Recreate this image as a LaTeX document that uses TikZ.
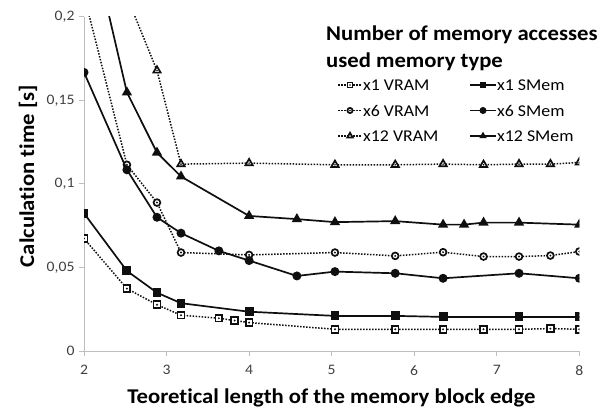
\documentclass[tikz,border=0pt]{standalone}
\usepackage{fontspec}
\setmainfont{Carlito}[Ligatures=NoCommon, FakeStretch=1.08]
\usepackage{tikz}
\usepackage{pgfplots}
\usetikzlibrary{
    arrows.meta,
    positioning,
    calc
}
\pgfplotsset{compat=1.18}
\definecolor{axisgray}{RGB}{190, 190, 190}
\definecolor{ticktext}{RGB}{64, 64, 64}
\definecolor{seriesblack}{RGB}{15, 15, 15}

% open marks with a small dot in the middle (solid black outline, white inside)
\pgfdeclareplotmark{dsquare}{%
    \begin{pgfscope}\pgfsetdash{}{0pt}\pgfsetlinewidth{1.7pt}%
    \pgfsetstrokecolor{seriesblack}\pgfsetfillcolor{white}%
    \pgfpathrectangle{\pgfqpoint{-\pgfplotmarksize}{-\pgfplotmarksize}}{\pgfqpoint{2\pgfplotmarksize}{2\pgfplotmarksize}}%
    \pgfusepath{fill,stroke}%
    \pgfsetfillcolor{seriesblack}%
    \pgfpathcircle{\pgfpointorigin}{0.32\pgfplotmarksize}\pgfusepath{fill}\end{pgfscope}}
\pgfdeclareplotmark{dcircle}{%
    \begin{pgfscope}\pgfsetdash{}{0pt}\pgfsetlinewidth{1.7pt}%
    \pgfsetstrokecolor{seriesblack}\pgfsetfillcolor{white}%
    \pgfpathcircle{\pgfpointorigin}{\pgfplotmarksize}%
    \pgfusepath{fill,stroke}%
    \pgfsetfillcolor{seriesblack}%
    \pgfpathcircle{\pgfpointorigin}{0.32\pgfplotmarksize}\pgfusepath{fill}\end{pgfscope}}
\pgfdeclareplotmark{dtriangle}{%
    \begin{pgfscope}\pgfsetdash{}{0pt}\pgfsetlinewidth{1.7pt}%
    \pgfsetstrokecolor{seriesblack}\pgfsetfillcolor{white}%
    \pgfpathmoveto{\pgfqpointpolar{90}{1.25\pgfplotmarksize}}%
    \pgfpathlineto{\pgfqpointpolar{-30}{1.25\pgfplotmarksize}}%
    \pgfpathlineto{\pgfqpointpolar{210}{1.25\pgfplotmarksize}}%
    \pgfpathclose
    \pgfusepath{fill,stroke}%
    \pgfsetfillcolor{seriesblack}%
    \pgfpathcircle{\pgfpointorigin}{0.28\pgfplotmarksize}\pgfusepath{fill}\end{pgfscope}}

\begin{document}
\begin{tikzpicture}[
        vram/.style={seriesblack, line width=1.5pt, dash pattern=on 1.5pt off 1.5pt, mark size=3.4pt},
        smem/.style={seriesblack, line width=1.7pt, mark size=3.6pt,
            mark options={solid, fill=seriesblack}},
        axistitle/.style={font=\fontsize{21}{25}\selectfont\bfseries},
        legtitle/.style={font=\fontsize{21}{25}\selectfont\bfseries, anchor=base west, inner sep=0pt},
        legtext/.style={font=\fontsize{16.5}{20}\selectfont, anchor=west, inner sep=1pt},
        legmark/.style={mark size=2.6pt, mark repeat=5, mark phase=2}
    ]
        \useasboundingbox (0,0) rectangle (612pt,407pt);

        \begin{axis}[
            at={(84pt,56pt)}, anchor=south west,
            scale only axis, width=495.3pt, height=334.3pt,
            xmin=2, xmax=8, ymin=0, ymax=0.2,
            axis lines*=left,
            axis line style={draw=axisgray, line width=1pt},
            tick align=outside, major tick length=5pt,
            tick style={draw=axisgray, line width=1pt},
            xtick={2,...,8},
            xticklabels={2,3,4,5,6,7,8},
            ytick={0,0.05,0.1,0.15,0.2},
            yticklabels={0,{0,05},{0,1},{0,15},{0,2}},
            ticklabel style={font=\fontsize{14.5}{17}\selectfont, text=ticktext},
            xticklabel style={yshift=-6pt},
            yticklabel style={xshift=-1pt},
            clip marker paths=true
        ]
            % x1 accesses
            \addplot[vram, mark=dsquare] coordinates {
                (2,0.0673) (2.52,0.0373) (2.884,0.0277) (3.175,0.0214) (3.634,0.0196)
                (3.826,0.0182) (4,0.0170) (5.04,0.0130) (5.77,0.0130) (6.35,0.0130)
                (6.84,0.0130) (7.27,0.0130) (7.65,0.0134) (8,0.0130)};
            \addplot[smem, mark=square*] coordinates {
                (2,0.0824) (2.52,0.0479) (2.884,0.0349) (3.175,0.0286) (4,0.0235)
                (5.04,0.0210) (5.77,0.0210) (6.35,0.0204) (7.27,0.0204) (8,0.0204)};

            % x6 accesses
            \addplot[vram, mark=dcircle] coordinates {
                (2,0.213) (2.52,0.1114) (2.884,0.0888) (3.175,0.0589) (4,0.0575)
                (5.04,0.0589) (5.77,0.0569) (6.35,0.0591) (6.84,0.0565) (7.27,0.0565)
                (7.65,0.0571) (8,0.0595)};
            \addplot[smem, mark=*] coordinates {
                (2,0.1667) (2.52,0.1084) (2.884,0.0800) (3.175,0.0705) (3.634,0.0599)
                (4,0.0541) (4.579,0.0449) (5.04,0.0475) (5.77,0.0465) (6.35,0.0435)
                (7.27,0.0465) (8,0.0435)};

            % x12 accesses
            \addplot[vram, mark=dtriangle] coordinates {
                (2.52,0.212) (2.884,0.1678) (3.175,0.1118) (4,0.1124) (5.04,0.1114)
                (5.77,0.1114) (6.35,0.1118) (6.84,0.1114) (7.27,0.1118) (7.65,0.1118)
                (8,0.1128)};
            \addplot[smem, mark=triangle*, mark size=4.3pt] coordinates {
                (2,0.265) (2.52,0.1547) (2.884,0.1187) (3.175,0.1044) (4,0.0808)
                (4.579,0.0789) (5.04,0.0771) (5.77,0.0777) (6.35,0.0756) (6.604,0.0756)
                (6.84,0.0768) (7.27,0.0768) (8,0.0756)};
        \end{axis}

        % axis titles
        \node[axistitle, anchor=base] (xtitle) at (331.5pt,4pt) {Teoretical length of the memory block edge};
        \node[axistitle, anchor=base, rotate=90] (ytitle) at (34pt,231pt) {Calculation time [s]};

        % legend
        \node[legtitle] (legone) at (326pt,366pt) {Number of memory accesses};
        \node[legtitle] (legtwo) at (326pt,339pt) {used memory type};

        \draw[vram, legmark, mark=dsquare] plot coordinates {(338pt,322pt) (350pt,322pt) (362pt,322pt)};
        \node[legtext] (lvone) at (362pt,322pt) {x1 VRAM};
        \draw[vram, legmark, mark=dcircle] plot coordinates {(338pt,296.5pt) (350pt,296.5pt) (362pt,296.5pt)};
        \node[legtext] (lvsix) at (362pt,296.5pt) {x6 VRAM};
        \draw[vram, legmark, mark=dtriangle] plot coordinates {(338pt,271pt) (350pt,271pt) (362pt,271pt)};
        \node[legtext] (lvtwelve) at (362pt,271pt) {x12 VRAM};

        \draw[smem, legmark, mark=square*] plot coordinates {(470pt,322pt) (483pt,322pt) (496pt,322pt)};
        \node[legtext] (lsone) at (496pt,322pt) {x1 SMem};
        \draw[smem, legmark, mark=*] plot coordinates {(470pt,296.5pt) (483pt,296.5pt) (496pt,296.5pt)};
        \node[legtext] (lssix) at (496pt,296.5pt) {x6 SMem};
        \draw[smem, legmark, mark=triangle*] plot coordinates {(470pt,271pt) (483pt,271pt) (496pt,271pt)};
        \node[legtext] (lstwelve) at (496pt,271pt) {x12 SMem};
    \end{tikzpicture}
\end{document}
